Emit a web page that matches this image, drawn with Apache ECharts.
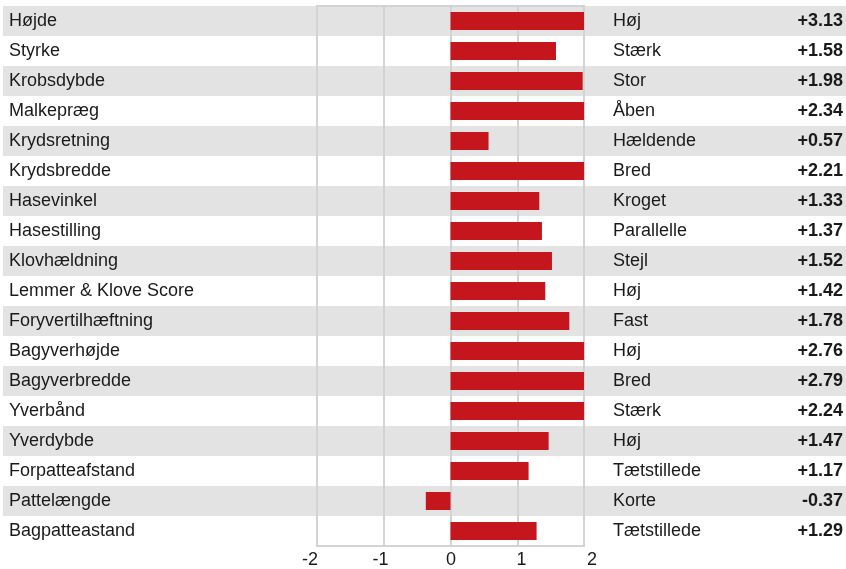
<!DOCTYPE html>
<html>
<head>
<meta charset="utf-8">
<script src="https://cdn.jsdelivr.net/npm/echarts@6/dist/echarts.min.js"></script>
<style>
html,body{margin:0;padding:0;background:#fff;}
#chart{width:846px;height:569px;}
</style>
</head>
<body>
<div id="chart"></div>
<script>
var traits = ['Højde','Styrke','Krobsdybde','Malkepræg','Krydsretning','Krydsbredde','Hasevinkel','Hasestilling','Klovhældning','Lemmer & Klove Score','Foryvertilhæftning','Bagyverhøjde','Bagyverbredde','Yverbånd','Yverdybde','Forpatteafstand','Pattelængde','Bagpatteastand'];
var descriptors = ['Høj','Stærk','Stor','Åben','Hældende','Bred','Kroget','Parallelle','Stejl','Høj','Fast','Høj','Bred','Stærk','Høj','Tætstillede','Korte','Tætstillede'];
var values = [3.13,1.58,1.98,2.34,0.57,2.21,1.33,1.37,1.52,1.42,1.78,2.76,2.79,2.24,1.47,1.17,-0.37,1.29];
var xTicks = [-2,-1,0,1,2];

var valueLabels = values.map(function(v){ return (v > 0 ? '+' : '') + v.toFixed(2); });
var FONT = "'Liberation Sans', Arial, Helvetica, sans-serif";
var TXT = '#1a1a1a';

var chart = echarts.init(document.getElementById('chart'), null, {renderer:'canvas'});
chart.setOption({
  animation: false,
  backgroundColor: '#ffffff',
  grid: [
    {left: 3, right: 0, top: 6, bottom: 23, z: 0},
    {left: 317, right: 262, top: 6, bottom: 23, show: true, borderColor: '#d3d3d3', borderWidth: 2, backgroundColor: 'transparent', z: 2},
    {left: 310, right: 254, top: 6, bottom: 23, z: 0}
  ],
  xAxis: [
    {gridIndex: 0, type: 'value', show: false, min: 0, max: 1},
    {gridIndex: 1, type: 'value', min: -2, max: 2, interval: 1, z: 2,
     axisLine: {show: false}, axisTick: {show: false}, axisLabel: {show: false},
     splitLine: {show: true, lineStyle: {color: '#d3d3d3', width: 2}}},
    {gridIndex: 2, type: 'value', min: xTicks[0], max: xTicks[xTicks.length-1], interval: 1,
     axisLine: {show: false}, axisTick: {show: false}, splitLine: {show: false},
     axisLabel: {show: true, margin: 6, fontSize: 18, fontFamily: FONT, color: TXT,
       formatter: function(v){ return String(v); }}}
  ],
  yAxis: [
    {gridIndex: 0, type: 'category', inverse: true, data: traits, z: 0,
     axisLine: {show: false}, axisTick: {show: false}, axisLabel: {show: false},
     splitLine: {show: false},
     splitArea: {show: true, areaStyle: {color: ['#e3e3e3', '#ffffff']}}},
    {gridIndex: 1, type: 'category', inverse: true, data: traits, z: 2,
     axisLine: {show: false}, axisTick: {show: false}, splitLine: {show: false},
     axisLabel: {margin: 308, align: 'left', fontSize: 18, fontFamily: FONT, color: TXT}},
    {gridIndex: 1, type: 'category', inverse: true, position: 'right', data: descriptors, z: 2,
     axisLine: {show: false}, axisTick: {show: false}, splitLine: {show: false},
     axisLabel: {margin: 29, align: 'left', fontSize: 18, fontFamily: FONT, color: TXT}},
    {gridIndex: 1, type: 'category', inverse: true, position: 'right', data: valueLabels, z: 2,
     axisLine: {show: false}, axisTick: {show: false}, splitLine: {show: false},
     axisLabel: {margin: 259, align: 'right', fontSize: 18, fontWeight: 'bold', fontFamily: FONT, color: TXT}},
    {gridIndex: 2, type: 'value', show: false}
  ],
  series: [
    {type: 'bar', xAxisIndex: 1, yAxisIndex: 1, data: values, barWidth: 18, z: 3,
     clip: true, silent: true,
     itemStyle: {color: '#c4161c'}}
  ]
});
</script>
</body>
</html>
